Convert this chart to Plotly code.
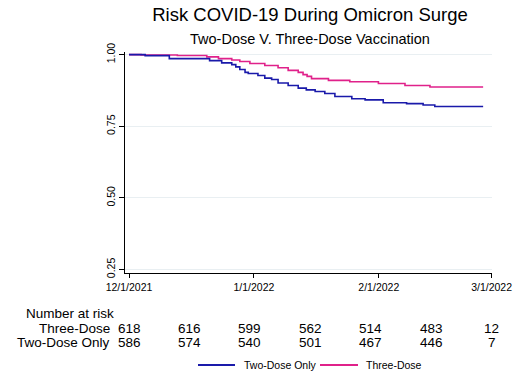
import plotly.graph_objects as go

# ---- data ----
# days since 12/1/2021
two_days = [0, 4, 10, 20, 23, 25.5, 26.5, 27.5, 28.8, 29.6, 32, 33.7, 35.4, 37, 39.5, 42, 44,
            46.2, 48.6, 51.1, 55.3, 58.6, 63.1, 68.9, 73, 75.9, 87.9]
two_surv = [1.0, 0.9965, 0.986, 0.979, 0.971, 0.965, 0.957, 0.948, 0.938, 0.934, 0.927, 0.918,
            0.913, 0.901, 0.892, 0.883, 0.877, 0.871, 0.864, 0.854, 0.846, 0.842, 0.832, 0.829,
            0.824, 0.819, 0.819]
three_days = [0, 3, 12, 19.3, 22.2, 25.5, 27.5, 30, 33.7, 37, 39.5, 42, 43.2, 44.2, 45.3, 49.5,
              54.8, 61.9, 68.5, 74.7, 87.9]
three_surv = [1.0, 0.9984, 0.997, 0.992, 0.986, 0.981, 0.976, 0.969, 0.962, 0.954, 0.945, 0.938,
              0.93, 0.924, 0.916, 0.910, 0.905, 0.899, 0.892, 0.887, 0.887]

tick_days = [0, 31, 62, 90]
tick_labels = ["12/1/2021", "1/1/2022", "2/1/2022", "3/1/2022"]
y_ticks = [0.25, 0.50, 0.75, 1.00]
y_labels = ["0.25", "0.50", "0.75", "1.00"]

risk_days = [0, 15, 30, 45, 60, 75, 90]
risk_three = [618, 616, 599, 562, 514, 483, 12]
risk_two = [586, 574, 540, 501, 467, 446, 7]
row_names = ["Three-Dose", "Two-Dose Only"]
legend_names = ["Two-Dose Only", "Three-Dose"]

BLUE = "#1a1aaa"
PINK = "#e0218a"
FONT = "Liberation Sans, Arial, sans-serif"

L, R, T, B = 125, 36, 52, 111
W, H = 528, 384
PW, PH = W - L - R, H - T - B


def px(xp):
    return (xp - L) / PW


def py(yp):
    return (H - B - yp) / PH


fig = go.Figure()
fig.add_trace(go.Scatter(x=three_days, y=three_surv, mode="lines", name="Three-Dose",
                         line=dict(color=PINK, width=1.6, shape="hv"), showlegend=False))
fig.add_trace(go.Scatter(x=two_days, y=two_surv, mode="lines", name="Two-Dose Only",
                         line=dict(color=BLUE, width=1.6, shape="hv"), showlegend=False))

fig.update_layout(
    width=W, height=H,
    margin=dict(l=L, r=R, t=T, b=B),
    paper_bgcolor="white", plot_bgcolor="white",
    font=dict(family=FONT, color="black"),
    title=dict(text="Risk COVID-19 During Omicron Surge", x=310/W, xanchor="center",
               y=1 - 15/H, yanchor="middle", font=dict(size=18.5, color="black")),
    showlegend=False,
)

fig.update_xaxes(range=[-1, 90.1], tickvals=tick_days, ticktext=tick_labels,
                 showline=True, linecolor="black", linewidth=1, ticks="outside",
                 ticklen=4, tickcolor="black", showgrid=False, zeroline=False,
                 tickfont=dict(size=10.5), automargin=False)
fig.update_yaxes(range=[0.238, 1.009], tickvals=y_ticks, ticktext=y_labels,
                 showline=True, linecolor="black", linewidth=1, ticks="outside",
                 ticklen=5, tickcolor="black", tickangle=-90, showgrid=True,
                 gridcolor="#e9eff2", gridwidth=1, zeroline=False,
                 tickfont=dict(size=10.5), automargin=False)

ann = []
ann.append(dict(text="Two-Dose V. Three-Dose Vaccination", xref="paper", yref="paper",
                x=px(310), y=py(39), xanchor="center", yanchor="middle",
                showarrow=False, font=dict(size=14.5)))
ann.append(dict(text="Number at risk", xref="paper", yref="paper",
                x=px(24), y=py(313), xanchor="left", yanchor="middle",
                showarrow=False, font=dict(size=13.5)))
rows = [risk_three, risk_two]
row_y = [py(328), py(342.5)]
for name, vals, yy in zip(row_names, rows, row_y):
    ann.append(dict(text=name, xref="paper", yref="paper", x=px(112), y=yy,
                    xanchor="right", yanchor="middle", showarrow=False, font=dict(size=13.5)))
    for d, v in zip(risk_days, vals):
        ann.append(dict(text=str(v), xref="x", yref="paper", x=d, y=yy,
                        xanchor="center", yanchor="middle", showarrow=False,
                        font=dict(size=13.5)))

# manual legend
shapes = []
leg_y = py(365)
for name, col, (x0, x1, xt) in zip(legend_names, [BLUE, PINK], [(198, 235, 242), (320, 358, 364)]):
    shapes.append(dict(type="line", xref="paper", yref="paper", x0=px(x0), x1=px(x1),
                       y0=leg_y, y1=leg_y, line=dict(color=col, width=1.8)))
    ann.append(dict(text=name, xref="paper", yref="paper", x=px(xt), y=leg_y,
                    xanchor="left", yanchor="middle", showarrow=False, font=dict(size=10.5)))

fig.update_layout(annotations=ann, shapes=shapes)

fig.write_html("out.html", config={"displayModeBar": False},
               post_script="document.body.style.margin='0';document.body.style.overflow='hidden';")
